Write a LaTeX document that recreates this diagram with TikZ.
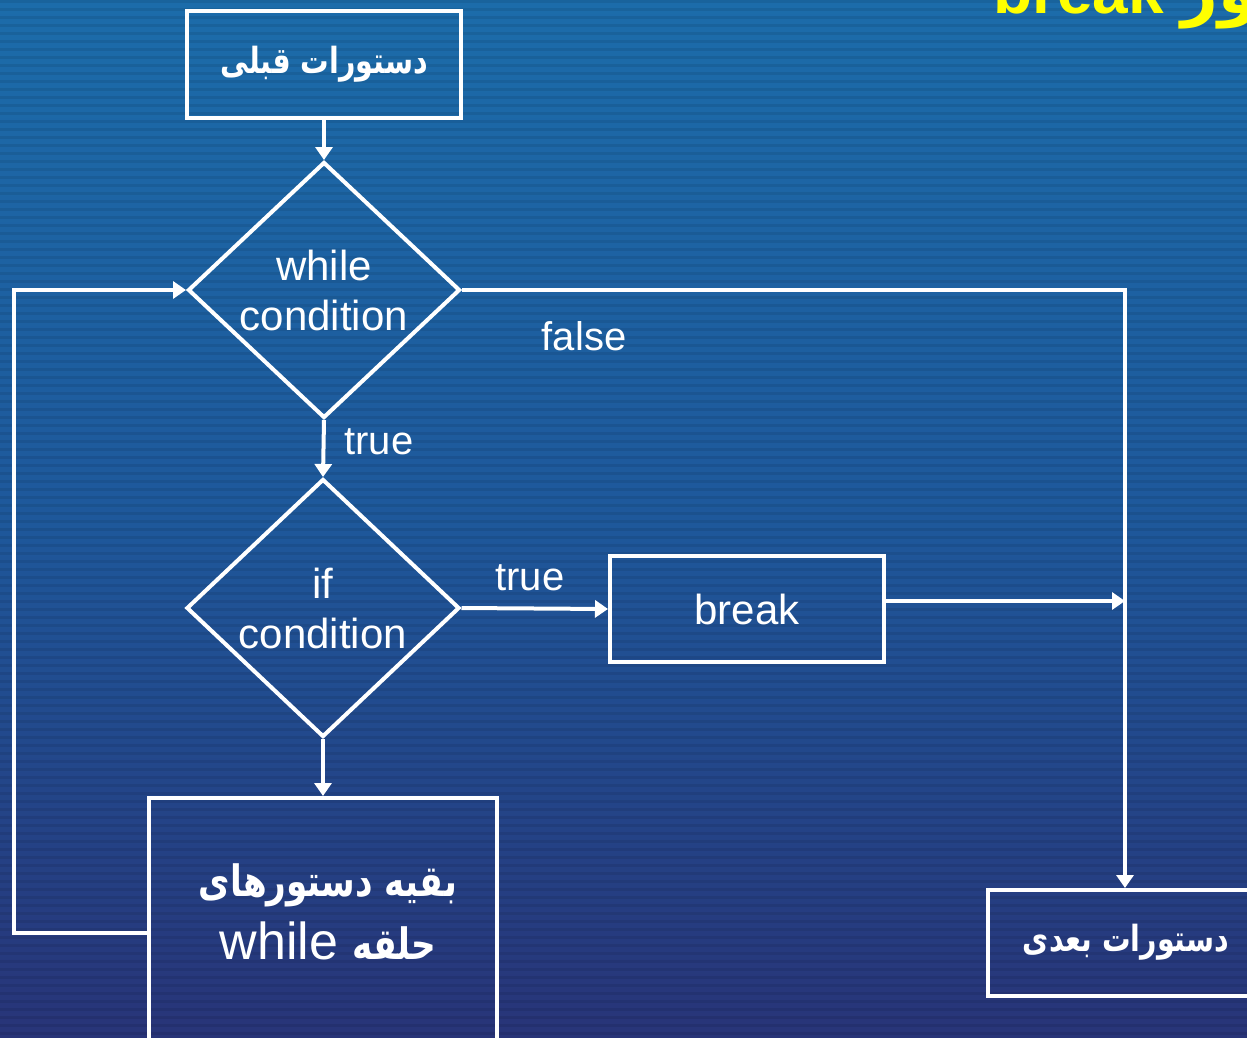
\documentclass[tikz,border=0pt]{standalone}
\usepackage{fontspec}
\usepackage{graphicx}
\setmainfont{Liberation Sans}
\newfontfamily\arabicfont[Script=Arabic]{DejaVu Sans}
\TeXXeTstate=1
\usetikzlibrary{shapes.geometric,arrows.meta}
\definecolor{bgtop}{RGB}{28,108,170}
\definecolor{bgmid}{RGB}{30,88,155}
\definecolor{bgbot}{RGB}{40,52,120}
\definecolor{titleyellow}{RGB}{255,255,0}
\newcommand{\fatxt}[1]{\scalebox{0.95}[1.2]{#1}}
\tikzset{
  box/.style={draw=white, line width=4pt, rectangle, inner sep=0pt, text=white},
  decision/.style={draw=white, line width=4pt, diamond, inner sep=0pt, aspect=1.06, text=white, align=center, font=\fontsize{42}{50}\selectfont},
  conn/.style={draw=white, line width=4pt},
  arr/.style={conn, -{Triangle[length=13pt,width=17pt]}},
  lbl/.style={text=white, font=\fontsize{40}{48}\selectfont, inner sep=0pt},
  fa/.style={font=\arabicfont\bfseries\fontsize{30}{36}\selectfont}
}
\begin{document}
\begin{tikzpicture}[x=1pt,y=-1pt]
\useasboundingbox (0,0) rectangle (1247,1038);
\clip (0,0) rectangle (1247,1038);
% background
\shade[top color=bgtop, bottom color=bgmid] (0,0) rectangle (1247,520);
\shade[top color=bgmid, bottom color=bgbot] (0,520) rectangle (1247,1038);
\foreach \yy in {0,8,...,1038} {
  \fill[black, opacity=0.08] (0,\yy) rectangle (1247,\yy+3);
}
% title
\node[anchor=base west, inner sep=0pt, text=titleyellow, font=\bfseries\fontsize{64}{70}\selectfont] (title) at (993,14)
  {\beginR{\arabicfont\bfseries دستور} \beginL break\endL\endR};
% nodes
\node[box, minimum width=274pt, minimum height=107pt, fa] (prev) at (324,64.5) {\fatxt{\beginR دستورات قبلی\endR}};
\node[decision, minimum width=272pt, minimum height=256pt] (wc) at (324,290) {while\\condition};
\node[decision, minimum width=273pt, minimum height=258pt] (ic) at (323,608) {if\\condition};
\node[box, minimum width=274pt, minimum height=106pt, font=\fontsize{42}{50}\selectfont] (brk) at (747,609) {break};
\node[box, minimum width=348pt, minimum height=300pt] (loop) at (323,948) {};
\node[text=white, inner sep=0pt, align=center] (looptxt) at (328,912)
  {{\arabicfont\bfseries\fontsize{36}{60}\selectfont\fatxt{\beginR بقیه دستورهای\endR}}\\[14pt]
   {\fontsize{52}{56}\selectfont while {\arabicfont\bfseries\fontsize{36}{60}\selectfont\fatxt{\beginR حلقه\endR}}}};
\node[box, minimum width=274pt, minimum height=106pt] (next) at (1125,943) {};
\node[text=white, inner sep=0pt, fa] (nexttxt) at (1126,942) {\fatxt{\beginR دستورات بعدی\endR}};
% labels
\node[lbl] (ltrue1) at (379,442) {true};
\node[lbl] (lfalse) at (584,336) {false};
\node[lbl] (ltrue2) at (530,578) {true};
% connectors
\draw[arr] (prev.south) -- (wc.north);
\draw[arr] (wc.south) -- (ic.north);
\draw[arr] (wc.east) -| (next.north);
\draw[arr] (ic.east) -- (brk.west);
\draw[arr] ([yshift=8pt]brk.east) -- ([yshift=8pt]brk.east -| next.north);
\draw[arr] (ic.south) -- (loop.north);
\draw[arr] ([yshift=15pt]loop.west) -- ++(-133,0) |- (wc.west);
\end{tikzpicture}
\end{document}
